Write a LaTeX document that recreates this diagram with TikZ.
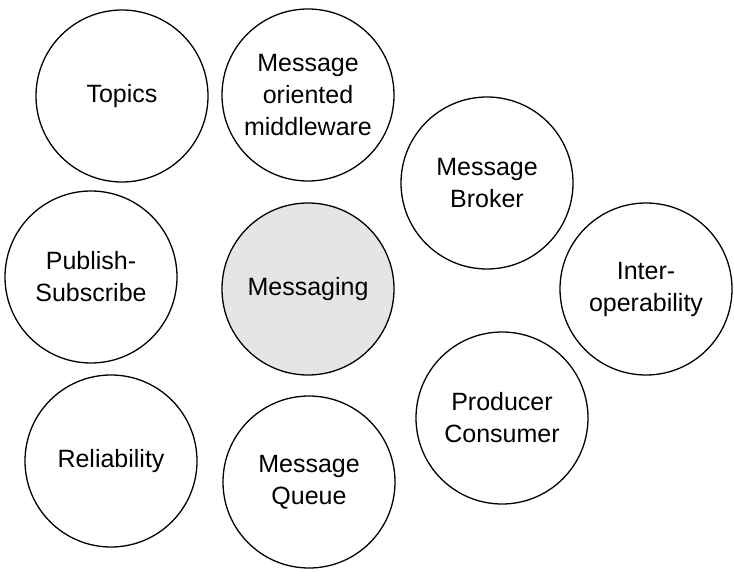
\documentclass[tikz,border=0pt]{standalone}
\usepackage{fontspec}
\setmainfont{Liberation Sans}
\usetikzlibrary{shapes}

\tikzset{
  bubble/.style={circle, draw, line width=1.3pt, minimum size=172pt, inner sep=0pt,
    align=center, font=\fontsize{25}{32}\selectfont},
  hub/.style={bubble, fill=black!10}
}

\begin{document}
\begin{tikzpicture}[x=1pt,y=-1pt]
			\useasboundingbox (0,0) rectangle (734,572);
			\node[hub] (messaging) at (308,289) {Messaging};
			\foreach \name/\x/\y/\txt in {topics/122/96/{Topics},
			    mom/308/95/{Message\\oriented\\middleware},
			    broker/487/183/{Message\\Broker},
			    pubsub/91/277/{Publish-\\Subscribe},
			    interop/646/289/{Inter-\\operability},
			    prodcons/502/418/{Producer\\Consumer},
			    reliab/111/461/{Reliability},
			    queue/309/482/{Message\\Queue}}
			  {\node[bubble] (\name) at (\x,\y) {\txt};};
		\end{tikzpicture}
\end{document}
